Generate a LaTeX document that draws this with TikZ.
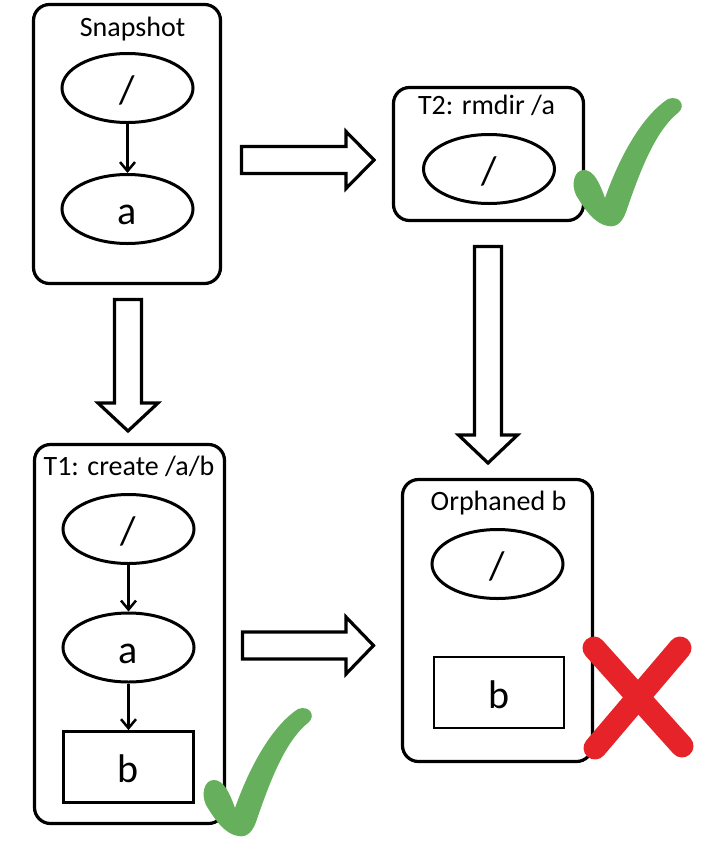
\documentclass[tikz,border=0pt]{standalone}
\usepackage{fontspec}
\setmainfont{Carlito}
\usetikzlibrary{arrows.meta,shapes.geometric}
\definecolor{okgreen}{RGB}{102,175,93}
\definecolor{badred}{RGB}{230,35,40}
\begin{document}
\begin{tikzpicture}[x=1pt,y=-1pt,
  frame/.style={draw=black,line width=3.2pt,rounded corners=16pt,inner sep=0pt},
  title/.style={anchor=base,inner sep=0pt,font=\fontsize{28}{30}\selectfont},
  dirnode/.style={draw=black,ellipse,line width=3pt,minimum width=131pt,minimum height=69pt,inner sep=0pt,font=\fontsize{40}{42}\selectfont,text height=31pt,text depth=0pt},
  filenode/.style={draw=black,rectangle,line width=2.8pt,minimum width=130pt,minimum height=71pt,inner sep=0pt,font=\fontsize{40}{42}\selectfont,text height=31pt,text depth=0pt},
  conn/.style={line width=2.5pt,-{Straight Barb[length=9pt,width=15pt]}},
  block/.style={draw=black,fill=white,line width=3.2pt,line join=miter},
  checkmark/.pic={
    \fill[okgreen] (605,198) .. controls (600,184) and (594,170) .. (584,170)
      .. controls (574,170) and (571,184) .. (576,195)
      .. controls (585,210) and (595,224) .. (608,226)
      .. controls (618,228) and (623,220) .. (626,212)
      .. controls (641,168) and (656,130) .. (679,112)
      .. controls (686,105) and (679,95) .. (668,99)
      .. controls (645,114) and (622,150) .. (605,198) -- cycle;
  },
]
\useasboundingbox (0,0) rectangle (712,844);

% frames
\node[frame,minimum width=187pt,minimum height=279pt] (snap) at (127,144) {};
\node[frame,minimum width=190pt,minimum height=379pt] (tone) at (129.5,634) {};
\node[frame,minimum width=190pt,minimum height=133pt] (ttwo) at (488.5,154) {};
\node[frame,minimum width=190pt,minimum height=282pt] (orph) at (497.5,620.5) {};

% titles
\node[title] (snapT) at (132.5,36) {Snapshot};
\node[title] (toneT) at (129,475) {T1: create /a/b};
\node[title] (ttwoT) at (486.5,114) {T2: rmdir /a};
\node[title] (orphT) at (498.5,510) {Orphaned b};

% contents
\node[dirnode] (snapR) at (127.5,88) {/};
\node[dirnode] (snapA) at (127.5,209) {a};
\node[dirnode] (toneR) at (128.5,529) {/};
\node[dirnode] (toneA) at (128.5,647.5) {a};
\node[filenode] (toneB) at (128.5,767) {b};
\node[dirnode] (ttwoR) at (489,169) {/};
\node[dirnode] (orphR) at (497.5,564) {/};
\node[filenode] (orphB) at (499,692.5) {b};

\draw[conn] (snapR) -- (snapA);
\draw[conn] (toneR) -- (toneA);
\draw[conn] (toneA) -- (toneB);

% block arrows
\draw[block] (241.5,146.5) -- (346,146.5) -- (346,131.5) -- (374,160) -- (346,188.5) -- (346,173.5) -- (241.5,173.5) -- cycle;
\draw[block] (242.5,632) -- (346,632) -- (346,617) -- (373.5,645.5) -- (346,674) -- (346,659) -- (242.5,659) -- cycle;
\draw[block] (114.5,299.5) -- (141.5,299.5) -- (141.5,403) -- (158,403) -- (128,431) -- (98,403) -- (114.5,403) -- cycle;
\draw[block] (474.5,246.5) -- (501.5,246.5) -- (501.5,435) -- (517.5,435) -- (488,463) -- (458.5,435) -- (474.5,435) -- cycle;

% marks
\pic at (0,0) {checkmark};
\pic at (-370,610) {checkmark};
\draw[badred,line width=23pt,line cap=round] (594,648) -- (682,746);
\draw[badred,line width=23pt,line cap=round] (680,648) -- (595,748);
\end{tikzpicture}
\end{document}
